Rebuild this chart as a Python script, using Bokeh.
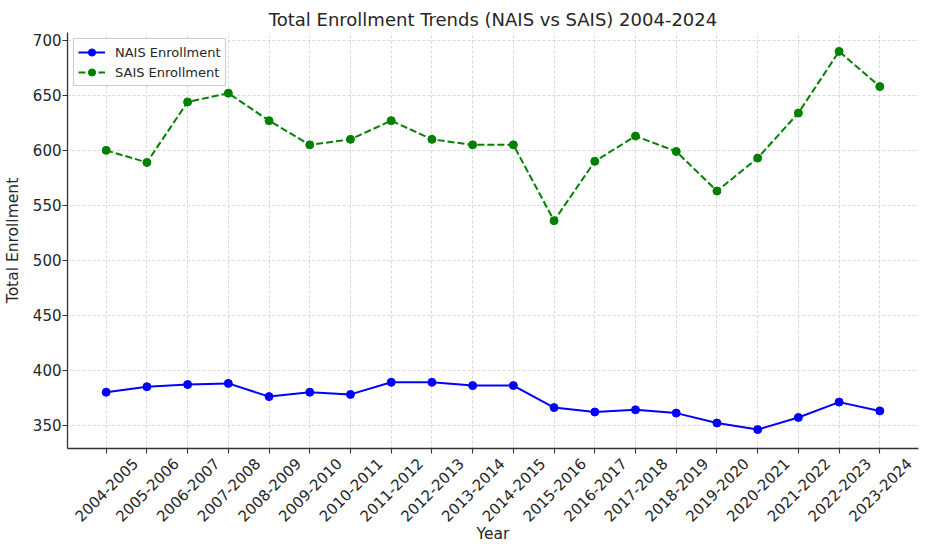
import math
from bokeh.plotting import figure
from bokeh.layouts import column
from bokeh.models import FixedTicker, Legend, LegendItem, ColumnDataSource, Range1d
from bokeh.core.properties import value
from bokeh.embed import file_html
from bokeh.resources import INLINE

years = ["2004-2005", "2005-2006", "2006-2007", "2007-2008", "2008-2009", "2009-2010",
         "2010-2011", "2011-2012", "2012-2013", "2013-2014", "2014-2015", "2015-2016",
         "2016-2017", "2017-2018", "2018-2019", "2019-2020", "2020-2021", "2021-2022",
         "2022-2023", "2023-2024"]
nais = [380, 385, 387, 388, 376, 380, 378, 389, 389, 386, 386, 366, 362, 364, 361, 352, 346, 357, 371, 363]
sais = [600, 589, 644, 652, 627, 605, 610, 627, 610, 605, 605, 536, 590, 613, 599, 563, 593, 634, 690, 658]
y_ticks = [350, 400, 450, 500, 550, 600, 650, 700]

xs = list(range(len(years)))
src = ColumnDataSource(dict(x=xs, nais=nais, sais=sais))

FONT = "DejaVu Sans"
TXT = "#262626"
Y0, Y1 = 328.8, 707.2
W = 920
LEFT, RIGHT = 66, 2
TOP_H = 456
BOT_H = 88

xr = Range1d(-0.95, len(years) - 1 + 0.95)

p = figure(width=W, height=TOP_H, output_backend="svg", toolbar_location=None,
           x_range=xr, y_range=(Y0, Y1),
           min_border_left=LEFT, min_border_right=RIGHT, min_border_top=32, min_border_bottom=8)
p.title.text = "Total Enrollment Trends (NAIS vs SAIS) 2004-2024"
p.title.align = "center"
p.title.text_font = FONT
p.title.text_font_size = "18px"
p.title.text_font_style = "normal"
p.title.text_color = TXT
p.title.standoff = 5
p.title.offset = 0
p.outline_line_color = None

l1 = p.line("x", "nais", source=src, line_color="blue", line_width=2)
c1 = p.scatter("x", "nais", source=src, size=8, fill_color="blue", line_color="blue")
l2 = p.line("x", "sais", source=src, line_color="green", line_width=2, line_dash="7 3")
c2 = p.scatter("x", "sais", source=src, size=8, fill_color="green", line_color="green")

p.xaxis.ticker = FixedTicker(ticks=xs)
p.xaxis.major_label_overrides = {i: "" for i in xs}
p.xaxis.major_label_text_font_size = "0px"
p.xaxis.major_label_standoff = 0
p.yaxis.ticker = FixedTicker(ticks=y_ticks)
p.yaxis.major_label_text_font_size = "15px"

for ax in (p.xaxis, p.yaxis):
    ax.major_label_text_font = FONT
    ax.major_label_text_color = TXT
    ax.axis_label_text_font = FONT
    ax.axis_label_text_font_size = "15.5px"
    ax.axis_label_text_font_style = "normal"
    ax.axis_label_text_color = TXT
    ax.axis_line_color = "#333333"
    ax.axis_line_width = 1.3
    ax.major_tick_line_color = "#333333"
    ax.major_tick_line_width = 1.1
    ax.major_tick_out = 5
    ax.major_tick_in = 0
    ax.minor_tick_line_color = None
p.yaxis.major_label_standoff = 1
p.yaxis.axis_label_standoff = 8
p.yaxis.axis_label = "Total Enrollment"

p.grid.grid_line_color = "#cfcfcf"
p.grid.grid_line_dash = "3 2"
p.grid.grid_line_width = 0.8

legend = Legend(items=[LegendItem(label="NAIS Enrollment", renderers=[l1, c1]),
                       LegendItem(label="SAIS Enrollment", renderers=[l2, c2])],
                location="top_left")
legend.label_text_font = FONT
legend.label_text_font_size = "13px"
legend.label_text_color = TXT
legend.border_line_color = "#cccccc"
legend.border_line_alpha = 1
legend.background_fill_alpha = 0.85
legend.glyph_width = 27
legend.glyph_height = 18
legend.label_height = 18
legend.spacing = 2
legend.padding = 4
legend.margin = 6
legend.label_standoff = 10
p.add_layout(legend)

# strip below the plot holding the rotated category labels and the x-axis title
q = figure(width=W, height=BOT_H, output_backend="svg", toolbar_location=None,
           x_range=xr, y_range=Range1d(0, BOT_H),
           x_axis_location=None, y_axis_location=None,
           min_border_left=LEFT, min_border_right=RIGHT, min_border_top=0, min_border_bottom=0)
q.outline_line_color = None
q.grid.visible = False
lab_src = ColumnDataSource(dict(x=xs, y=[BOT_H - 33] * len(xs), t=years))
q.text("x", "y", text="t", source=lab_src, angle=math.pi / 4,
       text_align="center", text_baseline="middle",
       text_font=value(FONT), text_font_size=value("15px"), text_color=TXT)
q.text(x=[(xr.start + xr.end) / 2], y=[11], text=["Year"],
       text_align="center", text_baseline="middle",
       text_font=value(FONT), text_font_size=value("15.5px"), text_color=TXT)

layout = column(p, q, spacing=0)
open("out.html", "w").write(file_html(layout, INLINE))
